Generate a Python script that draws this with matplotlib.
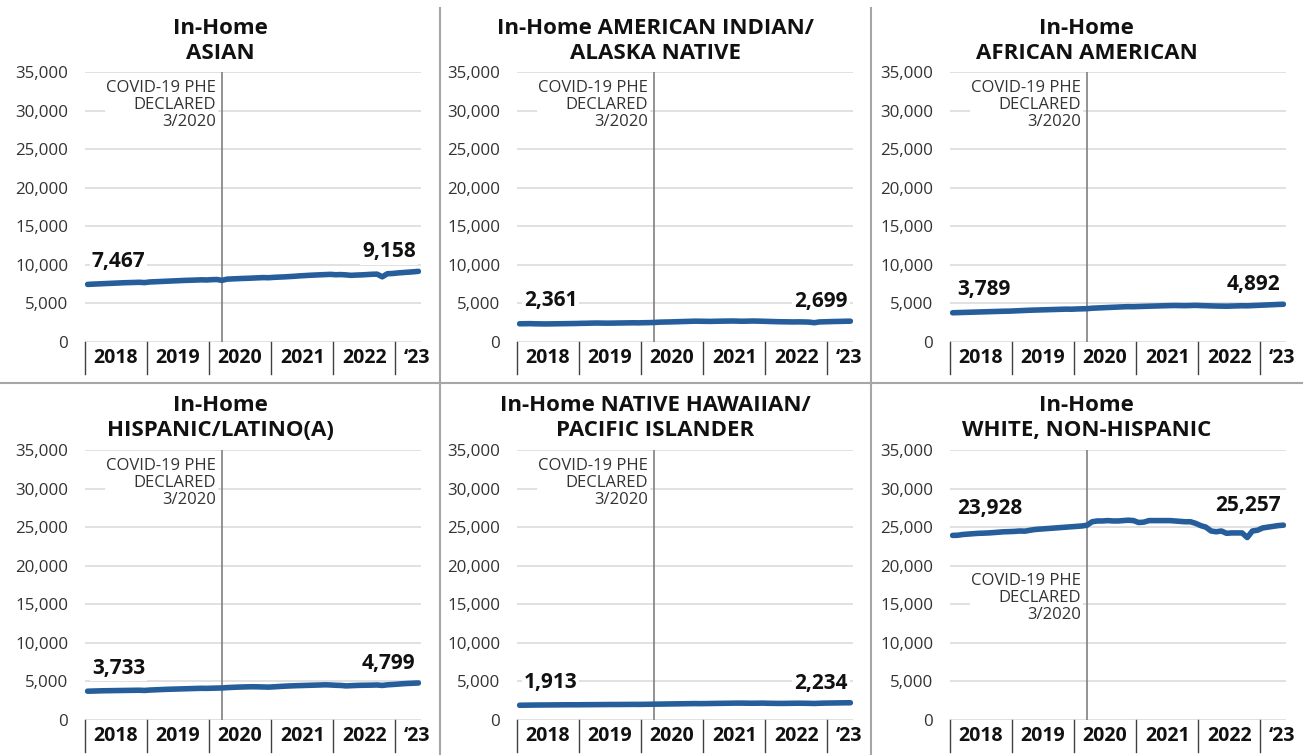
import matplotlib
matplotlib.use('Agg')
import matplotlib.pyplot as plt
from matplotlib.lines import Line2D
from matplotlib.ticker import FuncFormatter
import matplotlib.transforms as mtransforms

# monthly in-home counts, Jan 2018 - May 2023
asian = [7467, 7500, 7530, 7560, 7590, 7620, 7650, 7680, 7700, 7720, 7740, 7700,
         7780, 7810, 7840, 7870, 7900, 7930, 7960, 7990, 8010, 8030, 8060, 8040,
         8080, 8100, 7990, 8150, 8180, 8210, 8240, 8260, 8290, 8320, 8350, 8330,
         8380, 8410, 8440, 8480, 8520, 8570, 8610, 8650, 8680, 8710, 8740, 8770,
         8720, 8740, 8700, 8640, 8680, 8700, 8740, 8780, 8800, 8450, 8850, 8880,
         8950, 9000, 9050, 9100, 9158]
aian = [2361, 2370, 2380, 2360, 2350, 2340, 2350, 2360, 2370, 2380, 2390, 2400,
        2420, 2430, 2450, 2460, 2450, 2440, 2450, 2460, 2470, 2480, 2490, 2480,
        2500, 2510, 2530, 2570, 2590, 2600, 2620, 2640, 2660, 2680, 2700, 2690,
        2680, 2670, 2690, 2700, 2710, 2720, 2710, 2690, 2700, 2720, 2710, 2690,
        2670, 2650, 2630, 2620, 2610, 2600, 2610, 2600, 2580, 2500, 2600, 2620,
        2640, 2660, 2670, 2690, 2699]
african_american = [3789, 3810, 3830, 3850, 3870, 3890, 3910, 3930, 3950, 3970, 3990, 4000,
                    4030, 4060, 4090, 4120, 4140, 4160, 4180, 4200, 4220, 4240, 4260, 4250,
                    4280, 4300, 4320, 4380, 4410, 4440, 4470, 4500, 4530, 4560, 4580, 4570,
                    4600, 4620, 4640, 4660, 4680, 4700, 4720, 4730, 4720, 4710, 4730, 4750,
                    4720, 4700, 4680, 4660, 4650, 4640, 4660, 4680, 4700, 4690, 4720, 4750,
                    4780, 4810, 4840, 4870, 4892]
hispanic = [3733, 3750, 3770, 3790, 3800, 3810, 3820, 3830, 3840, 3850, 3860, 3830,
            3880, 3910, 3940, 3970, 3990, 4010, 4030, 4050, 4070, 4090, 4110, 4100,
            4120, 4140, 4150, 4200, 4230, 4260, 4280, 4300, 4310, 4300, 4280, 4260,
            4300, 4340, 4380, 4410, 4440, 4460, 4480, 4500, 4520, 4540, 4560, 4540,
            4500, 4480, 4420, 4450, 4480, 4500, 4510, 4520, 4540, 4480, 4560, 4600,
            4650, 4700, 4740, 4770, 4799]
nhpi = [1913, 1920, 1930, 1940, 1945, 1950, 1955, 1960, 1965, 1970, 1975, 1970,
        1980, 1985, 1990, 1995, 2000, 2005, 2010, 2010, 2015, 2020, 2025, 2020,
        2030, 2040, 2050, 2060, 2070, 2080, 2090, 2100, 2110, 2120, 2130, 2120,
        2130, 2140, 2150, 2160, 2170, 2180, 2190, 2190, 2180, 2170, 2180, 2190,
        2170, 2160, 2150, 2150, 2160, 2170, 2180, 2170, 2160, 2140, 2170, 2190,
        2200, 2210, 2220, 2230, 2234]
white = [23928, 23950, 24050, 24100, 24150, 24200, 24220, 24250, 24300, 24350, 24400, 24420,
         24450, 24500, 24480, 24600, 24700, 24750, 24800, 24850, 24900, 24950, 25000, 25050,
         25100, 25150, 25250, 25700, 25800, 25800, 25850, 25800, 25800, 25850, 25900, 25850,
         25600, 25650, 25850, 25850, 25850, 25850, 25850, 25800, 25750, 25700, 25700, 25500,
         25200, 25000, 24500, 24400, 24500, 24200, 24250, 24250, 24250, 23650, 24500, 24600,
         24900, 25000, 25100, 25200, 25257]

titles = ['In-Home\nASIAN',
          'In-Home AMERICAN INDIAN/\nALASKA NATIVE',
          'In-Home\nAFRICAN AMERICAN',
          'In-Home\nHISPANIC/LATINO(A)',
          'In-Home NATIVE HAWAIIAN/\nPACIFIC ISLANDER',
          'In-Home\nWHITE, NON-HISPANIC']
series = [asian, aian, african_american, hispanic, nhpi, white]
year_labels = ['2018', '2019', '2020', '2021', '2022', '\u201823']
year_start = [0, 12, 24, 36, 48, 60]  # month index where each year begins
covid_month = 26  # March 2020
covid_text = 'COVID-19 PHE\nDECLARED\n3/2020'

W, H = 1308, 755
blue = '#255e9b'
plt.rcParams['font.family'] = ['Open Sans', 'DejaVu Sans']

fig = plt.figure(figsize=(W / 100, H / 100), dpi=100)

# layout in pixels
col_x = [(85, 421, 0, 440), (517, 853, 440, 871), (950, 1286, 871, 1302)]
row_y = [(72, 342, 41), (450, 720, 418)]


def px_rect(x0, x1, yt, yb):
    return [x0 / W, 1 - yb / H, (x1 - x0) / W, (yb - yt) / H]


fmt = FuncFormatter(lambda v, p: f'{int(v):,}')

for k, (title, vals) in enumerate(zip(titles, series)):
    r, c = divmod(k, 3)
    x0, x1, cx0, cx1 = col_x[c]
    yt, yb, ty = row_y[r]
    ax = fig.add_axes(px_rect(x0, x1, yt, yb))
    n = len(vals)
    xs = [i + 0.5 for i in range(n)]
    ax.set_xlim(0, n)
    ax.set_ylim(0, 35000)
    ax.set_yticks(range(0, 35001, 5000))
    ax.yaxis.set_major_formatter(fmt)
    ax.grid(axis='y', color='#d9d9d9', lw=1.1, zorder=0)
    ax.set_xticks([])
    for s in ax.spines.values():
        s.set_visible(False)
    ax.tick_params(axis='y', length=0, pad=12, labelsize=12.2, labelcolor='#333333')

    ax.plot(xs, vals, color=blue, lw=4.0, solid_capstyle='round', zorder=3)

    # covid line + note
    ax.axvline(covid_month + 0.5, color='#808080', lw=1.2, zorder=2)
    note_y = 34000 if vals[0] < 15000 else 19000
    ax.text(covid_month + 0.5 - 1.1, note_y, covid_text, ha='right', va='top',
            multialignment='right', fontsize=12, color='#333333', linespacing=1.08,
            bbox=dict(boxstyle='square,pad=0.1', fc='white', ec='none'), zorder=4)

    # first / last labels
    lift = 15.5 if vals[0] > 15000 else 12.5
    ax.annotate(f'{vals[0]:,}', (xs[0], vals[0]), xytext=(3, lift),
                textcoords='offset points', ha='left', va='baseline',
                fontsize=15, fontweight='bold', color='#111111', zorder=5,
                bbox=dict(boxstyle='square,pad=0.1', fc='white', ec='none'))
    ax.annotate(f'{vals[-1]:,}', (xs[-1], vals[-1]), xytext=(-2, 10),
                textcoords='offset points', ha='right', va='baseline',
                fontsize=15, fontweight='bold', color='#111111', zorder=5,
                bbox=dict(boxstyle='square,pad=0.1', fc='white', ec='none'))

    # year category axis
    trans = mtransforms.blended_transform_factory(ax.transData, ax.transAxes)
    bounds = year_start + [n]
    for j, lab in enumerate(year_labels):
        ax.add_line(Line2D([bounds[j], bounds[j]], [0, -0.118], transform=trans,
                           color='#404040', lw=1.0, clip_on=False))
        ax.text((bounds[j] + bounds[j + 1]) / 2 + (1.8 if j == 5 else 0), -0.06, lab,
                transform=trans, ha='center', va='center', fontsize=14,
                fontweight='bold', color='#111111')

    # two-line title centred on the panel cell
    fig.text((cx0 + cx1) / 2 / W, 1 - ty / H, title, ha='center', va='center',
             fontsize=16, fontweight='bold', color='#111111', linespacing=1.28)

# panel dividers
div = dict(color='#a6a6a6', lw=1.5, transform=fig.transFigure)
fig.add_artist(Line2D([440 / W, 440 / W], [0, 1 - 8 / H], **div))
fig.add_artist(Line2D([871 / W, 871 / W], [0, 1 - 8 / H], **div))
fig.add_artist(Line2D([0, 1302 / W], [1 - 383 / H, 1 - 383 / H], **div))

fig.savefig('out.png', dpi=100)
